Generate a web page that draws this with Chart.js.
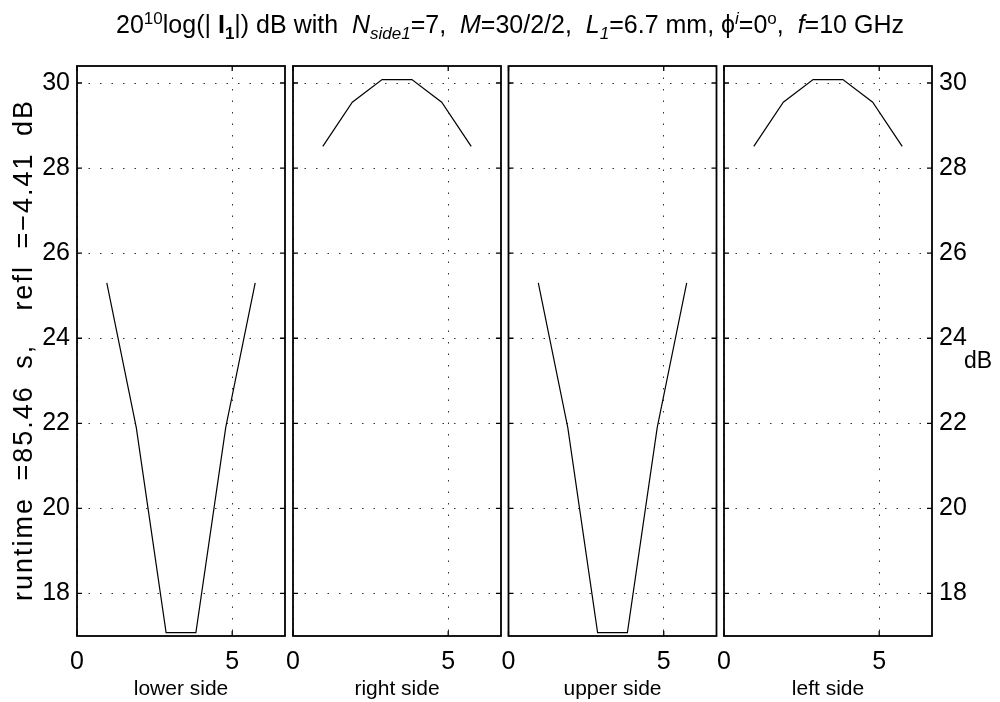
<!DOCTYPE html>
<html lang="en">
<head>
  <meta charset="UTF-8" />
  <title>Current magnitude per side</title>
  <script src="https://cdn.jsdelivr.net/npm/chart.js"></script>
  <style>
    body {
      margin: 0;
      background: #fff;
      font-family: 'Liberation Sans', Arial, Helvetica, sans-serif;
      color: #000;
    }

    #wrap {
      position: relative;
      width: 1000px;
      height: 702px;
      overflow: hidden;
    }

    #wrap canvas {
      position: absolute;
      left: 0;
      top: 0;
    }

    #title {
      position: absolute;
      left: 10px;
      width: 1000px;
      top: 8px;
      text-align: center;
      font-size: 25px;
      line-height: 32px;
      white-space: pre;
    }

    #title sub, #title sup {
      font-size: 17px;
      line-height: 0;
    }

    #dbLabel {
      position: absolute;
      left: 964px;
      top: 349px;
      font-size: 23px;
      line-height: 23px;
    }
  </style>
</head>
<body>

  <div id="wrap">
    <canvas id="p0" width="1000" height="702"></canvas>
    <canvas id="p1" width="1000" height="702"></canvas>
    <canvas id="p2" width="1000" height="702"></canvas>
    <canvas id="p3" width="1000" height="702"></canvas>
    <div id="title">20<sup>10</sup>log(| <b>I</b><sub><b>1</b></sub>|) dB with  <i>N</i><sub><i>side1</i></sub>=7,  <i>M</i>=30/2/2,  <i>L</i><sub><i>1</i></sub>=6.7 mm, ϕ<sup><i>i</i></sup>=0<sup>o</sup>,  <i>f</i>=10 GHz</div>
    <div id="dbLabel">dB</div>
  </div>

  <script>
    // element positions along each side (mm) and |I| in dB
    const xPos = [0.96, 1.91, 2.87, 3.83, 4.79, 5.74];
    const lowerSide = [25.3, 21.9, 17.08, 17.08, 21.9, 25.3];
    const rightSide = [28.51, 29.55, 30.08, 30.08, 29.55, 28.51];
    const upperSide = [25.3, 21.9, 17.08, 17.08, 21.9, 25.3];
    const leftSide = [28.51, 29.55, 30.08, 30.08, 29.55, 28.51];

    const sideNames = ['lower side', 'right side', 'upper side', 'left side'];
    const sideValues = [lowerSide, rightSide, upperSide, leftSide];
    const xTicks = [0, 5];
    const yTicks = [18, 20, 22, 24, 26, 28, 30];
    const yTitle = 'runtime =85.46 s,  refl =\u22124.41 dB';

    const xMax = 6.7;
    const yMin = 17;
    const yMax = 30.4;

    // panel geometry (px)
    const panelLeft = [77, 293, 508.5, 724];
    const panelWidth = 208;
    const plotTop = 66;
    const xAxisHeight = 66;

    const FONT = "'Liberation Sans', Arial, Helvetica, sans-serif";

    // matlab style: full box plus inward tick marks
    const boxPlugin = {
      id: 'box',
      afterDraw(chart) {
        const { ctx, chartArea: a } = chart;
        const x = chart.scales.x;
        const y = chart.scales.y;
        const tick = 5;
        ctx.save();
        ctx.strokeStyle = '#000';
        ctx.lineWidth = 1.3;
        ctx.beginPath();
        yTicks.forEach(v => {
          const py = y.getPixelForValue(v);
          ctx.moveTo(a.left, py); ctx.lineTo(a.left + tick, py);
          ctx.moveTo(a.right - tick, py); ctx.lineTo(a.right, py);
        });
        xTicks.forEach(v => {
          const px = x.getPixelForValue(v);
          ctx.moveTo(px, a.top); ctx.lineTo(px, a.top + tick);
          ctx.moveTo(px, a.bottom - tick); ctx.lineTo(px, a.bottom);
        });
        ctx.stroke();
        ctx.lineWidth = 1.8;
        ctx.strokeRect(a.left, a.top, a.right - a.left, a.bottom - a.top);
        ctx.restore();
      }
    };

    // rotated y label; the export spreads it over most of the axis height
    const yLabelPlugin = {
      id: 'ylabel',
      afterDraw(chart) {
        const { ctx, chartArea: a } = chart;
        const spanLen = 500;
        const letterGap = 2;
        ctx.save();
        ctx.font = '27px ' + FONT;
        ctx.fillStyle = '#000';
        ctx.textBaseline = 'middle';
        ctx.textAlign = 'left';
        const chars = Array.from(yTitle);
        const widths = chars.map(c => ctx.measureText(c).width);
        const natural = widths.reduce((s, w) => s + w, 0);
        const nSpaces = chars.filter(c => c === ' ').length;
        const spaceExtra = Math.max(0, (spanLen - natural - letterGap * (chars.length - 1)) / nSpaces);
        ctx.translate(25, (a.top + a.bottom) / 2);
        ctx.rotate(-Math.PI / 2);
        let pos = -spanLen / 2;
        chars.forEach((c, k) => {
          ctx.fillText(c, pos, 0);
          pos += widths[k] + letterGap + (c === ' ' ? spaceExtra : 0);
        });
        ctx.restore();
      }
    };

    sideNames.forEach((name, i) => {
      const first = i === 0;
      const last = i === sideNames.length - 1;
      const values = sideValues[i];

      new Chart(document.getElementById('p' + i), {
        type: 'line',
        data: {
          datasets: [{
            data: xPos.map((x, k) => ({ x: x, y: values[k] })),
            borderColor: '#000',
            borderWidth: 1.2,
            pointRadius: 0,
            tension: 0,
            fill: false
          }]
        },
        options: {
          responsive: false,
          animation: false,
          events: [],
          layout: {
            padding: {
              left: first ? 0 : panelLeft[i],
              right: last ? 0 : 1000 - panelLeft[i] - panelWidth,
              top: plotTop,
              bottom: 0
            }
          },
          plugins: {
            legend: { display: false },
            tooltip: { enabled: false }
          },
          scales: {
            x: {
              type: 'linear',
              min: 0,
              max: xMax,
              afterBuildTicks: s => { s.ticks = xTicks.map(v => ({ value: v })); },
              afterFit: s => { s.height = xAxisHeight; },
              grid: { color: '#333', lineWidth: 1, drawTicks: false },
              border: { display: false, dash: [1.5, 10] },
              ticks: {
                color: '#000',
                padding: 11,
                maxRotation: 0,
                font: { family: FONT, size: 25 }
              },
              title: {
                display: true,
                text: name,
                color: '#000',
                font: { family: FONT, size: 21 },
                padding: { top: 0, bottom: 0 }
              }
            },
            y: {
              type: 'linear',
              position: last ? 'right' : 'left',
              min: yMin,
              max: yMax,
              afterBuildTicks: s => { s.ticks = yTicks.map(v => ({ value: v })); },
              afterFit: s => { s.width = first ? panelLeft[0] : (last ? 1000 - panelLeft[3] - panelWidth : 0); },
              grid: { color: '#333', lineWidth: 1, drawTicks: false },
              border: { display: false, dash: [1.5, 10] },
              ticks: {
                display: first || last,
                color: '#000',
                padding: 7,
                font: { family: FONT, size: 25 }
              }
            }
          }
        },
        plugins: first ? [boxPlugin, yLabelPlugin] : [boxPlugin]
      });
    });
  </script>

</body>
</html>
